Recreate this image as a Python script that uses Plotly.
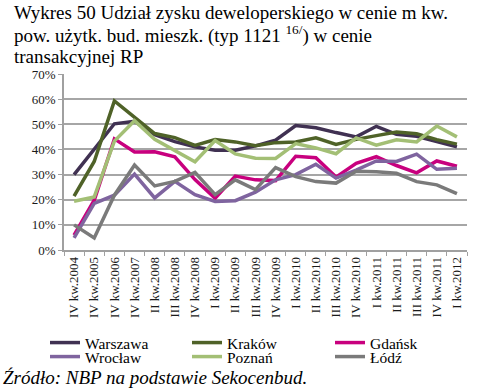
import plotly.graph_objects as go

categories = ["IV kw.2004", "IV kw.2005", "IV kw.2006", "IV kw.2007", "II kw.2008",
              "III kw.2008", "IV kw.2008", "I kw.2009", "II kw.2009", "III kw.2009",
              "IV kw.2009", "I kw.2010", "II kw.2010", "III kw.2010", "IV kw.2010",
              "I kw.2011", "II kw.2011", "III kw.2011", "IV kw.2011", "I kw.2012"]

warszawa = [30.0, 40.2, 50.2, 51.2, 45.9, 43.1, 41.0, 39.7, 39.7, 41.4,
            43.7, 49.5, 48.6, 46.7, 45.0, 49.2, 46.0, 45.2, 43.0, 41.0]
krakow = [21.4, 35.2, 59.3, 52.7, 46.3, 44.7, 41.6, 43.9, 43.0, 41.5,
          42.7, 43.0, 44.6, 42.0, 44.0, 45.5, 46.9, 46.2, 43.9, 42.1]
gdansk = [5.9, 19.8, 44.2, 39.0, 39.1, 37.1, 28.0, 20.6, 29.4, 27.9,
          27.6, 37.3, 36.7, 29.0, 34.5, 37.1, 33.6, 30.7, 35.4, 33.3]
wroclaw = [4.8, 18.5, 21.8, 30.2, 20.7, 27.3, 22.0, 19.3, 19.6, 23.0,
           27.9, 30.0, 34.1, 28.6, 31.8, 35.4, 35.2, 38.1, 32.1, 32.5]
poznan = [19.4, 21.1, 43.3, 51.4, 44.0, 39.5, 35.1, 43.5, 38.2, 36.5,
          36.4, 42.3, 40.6, 38.3, 44.6, 41.7, 43.8, 43.0, 49.3, 45.0]
lodz = [10.0, 4.8, 21.8, 33.8, 25.5, 27.3, 30.9, 22.0, 27.9, 24.0,
        32.8, 29.2, 27.2, 26.6, 31.3, 31.1, 30.5, 27.2, 25.9, 22.4]

title_lines = ["Wykres 50 Udział zysku deweloperskiego w cenie m kw.",
               "pow. użytk. bud. mieszk. (typ 1121 <sup>16/</sup>) w cenie",
               "transakcyjnej RP"]
source_text = "Źródło: NBP na podstawie Sekocenbud."

series = [
    ("Warszawa", warszawa, "#403152"),
    ("Kraków", krakow, "#4F6228"),
    ("Gdańsk", gdansk, "#C8007E"),
    ("Wrocław", wroclaw, "#7F649F"),
    ("Poznań", poznan, "#A3BF75"),
    ("Łódź", lodz, "#7A7A7A"),
]

SERIF = "Liberation Serif, Times New Roman, serif"
W, H = 494, 388
L, R, T, B = 64, 27, 74, 138
PW, PH = W - L - R, H - T - B


def px(x):
    return (x - L) / PW


def py(y):
    return (H - B - y) / PH


fig = go.Figure()
legend_names = ["legend", "legend2", "legend3", "legend4", "legend5", "legend6"]
for (name, vals, color), lg in zip(series, legend_names):
    fig.add_trace(go.Scatter(
        x=categories, y=[v / 100 for v in vals], name=name, mode="lines",
        line=dict(color=color, width=3.5), hoverinfo="skip", legend=lg))

# legend placement: 3 columns x 2 rows
col_x = [45, 187, 330]
row_y = [343, 357]
legend_layout = {}
for k, lg in enumerate(legend_names):
    c, r = k % 3, k // 3
    legend_layout[lg] = dict(
        x=px(col_x[c]), xanchor="left", y=py(row_y[r]), yanchor="middle",
        font=dict(family=SERIF, size=15.5, color="#000000"),
        bgcolor="rgba(0,0,0,0)", borderwidth=0, itemwidth=30,
        orientation="v")

annotations = []
for i, line in enumerate(title_lines):
    annotations.append(dict(
        text=line, xref="paper", yref="paper", showarrow=False,
        x=px(12), xanchor="left", y=py(12 + 22 * i), yanchor="middle",
        font=dict(family=SERIF, size=19, color="#000000")))
annotations.append(dict(
    text="<i>" + source_text + "</i>", xref="paper", yref="paper", showarrow=False,
    x=px(1), xanchor="left", y=py(377), yanchor="middle",
    font=dict(family=SERIF, size=19, color="#000000")))

fig.update_layout(
    width=W, height=H,
    margin=dict(l=L, r=R, t=T, b=B, autoexpand=False),
    paper_bgcolor="white", plot_bgcolor="white",
    font=dict(family=SERIF, size=13, color="#1a1a1a"),
    showlegend=True,
    xaxis=dict(
        type="category", tickangle=-90, showgrid=False,
        showline=True, linecolor="#A0A0A0", linewidth=1.5,
        ticks="outside", ticklen=4, tickcolor="#A0A0A0", tickson="boundaries",
        tickfont=dict(family=SERIF, size=13, color="#1a1a1a"),
        range=[-0.5, len(categories) - 0.5]),
    yaxis=dict(
        range=[0, 0.7], dtick=0.1, tickformat=".0%",
        showgrid=True, gridcolor="#A6A6A6", gridwidth=1.5,
        showline=True, linecolor="#A0A0A0", linewidth=1.5,
        ticks="outside", ticklen=4, tickcolor="#A0A0A0",
        zeroline=False,
        tickfont=dict(family=SERIF, size=13, color="#1a1a1a")),
    annotations=annotations,
    **legend_layout,
)

fig.write_html("out.html", config={"displayModeBar": False},
               post_script="document.body.style.margin='0';document.body.style.overflow='hidden';")
